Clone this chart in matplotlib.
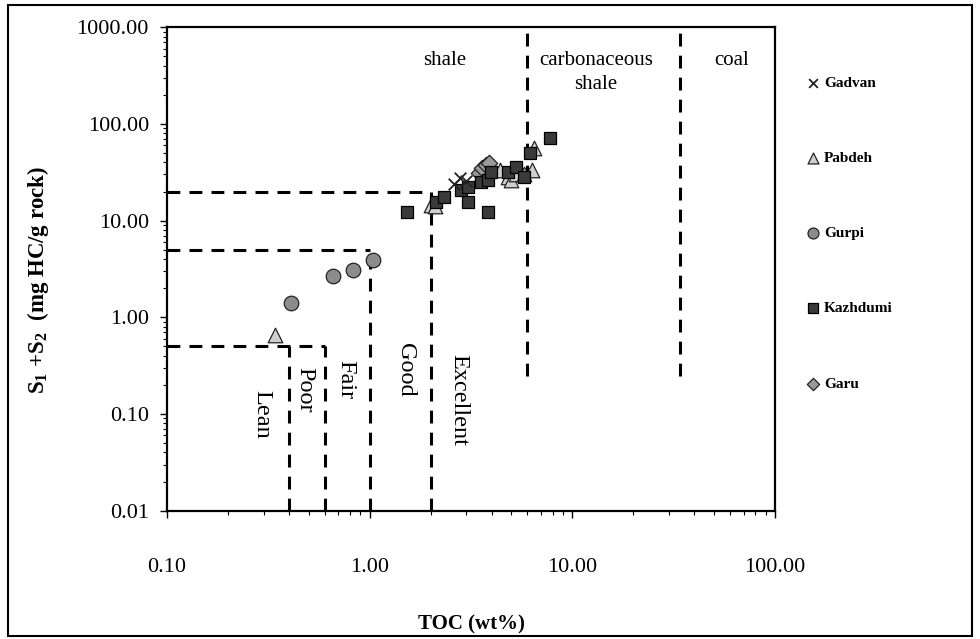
#!/usr/bin/env python
# -*- coding: utf-8 -*-
"""
TOC vs S1+S2 source rock quality plot (log-log)
"""

import matplotlib
matplotlib.use('Agg')
import matplotlib.pyplot as plt
from matplotlib.ticker import LogLocator, FormatStrFormatter, NullFormatter
from matplotlib.patches import Rectangle

plt.rcParams['font.family'] = ['Liberation Serif', 'DejaVu Serif']
plt.rcParams['mathtext.fontset'] = 'custom'
plt.rcParams['mathtext.rm'] = 'Liberation Serif'
plt.rcParams['mathtext.bf'] = 'Liberation Serif:bold'

# ---- data: TOC (wt%) and S1+S2 (mg HC/g rock) per formation ----
gadvan_toc = [2.6, 2.8, 3.0]
gadvan_s12 = [24.0, 27.5, 25.5]

pabdeh_toc = [0.34, 2.0, 2.1, 3.6, 4.4, 4.8, 5.0, 5.3, 5.8, 6.3, 6.5]
pabdeh_s12 = [0.66, 14.5, 14.0, 31.0, 33.0, 28.0, 26.0, 30.0, 30.0, 33.0, 57.0]

gurpi_toc = [0.41, 0.66, 0.83, 1.04]
gurpi_s12 = [1.42, 2.7, 3.1, 3.9]

kazhdumi_toc = [1.52, 2.12, 2.33, 2.82, 3.07, 3.07, 3.55, 3.83, 3.83, 3.97, 4.8, 5.3, 5.8, 6.15, 7.8]
kazhdumi_s12 = [12.4, 15.7, 17.7, 20.7, 22.4, 15.7, 25.0, 26.0, 12.4, 32.0, 32.0, 36.0, 28.4, 50.0, 71.0]

garu_toc = [3.48, 3.6, 3.75, 3.9]
garu_s12 = [31.0, 35.0, 37.6, 39.0]

# classification boundaries
toc_limits = [0.4, 0.6, 1.0, 2.0]          # lean / poor / fair / good / excellent
s12_limits = [0.5, 5.0, 20.0]              # paired with toc 0.6, 1.0, 2.0
lith_limits = [6.0, 34.0]                  # shale / carbonaceous shale / coal
lith_bottom = 0.25

x_ticks = [0.1, 1.0, 10.0, 100.0]
y_ticks = [0.01, 0.1, 1.0, 10.0, 100.0, 1000.0]


def main():
    fig = plt.figure(figsize=(9.8, 6.39), dpi=100)
    ax = fig.add_axes([0.1704, 0.2008, 0.6204, 0.7566])

    dash = dict(color='black', lw=2.2, linestyle=(0, (4.2, 3.0)), zorder=1)

    # 分类虚线
    ax.plot([0.1, 0.6], [s12_limits[0]] * 2, **dash)
    ax.plot([0.1, 1.0], [s12_limits[1]] * 2, **dash)
    ax.plot([0.1, 2.0], [s12_limits[2]] * 2, **dash)
    ax.plot([toc_limits[0]] * 2, [0.01, s12_limits[0]], **dash)
    ax.plot([toc_limits[1]] * 2, [0.01, s12_limits[0]], **dash)
    ax.plot([toc_limits[2]] * 2, [0.01, s12_limits[1]], **dash)
    ax.plot([toc_limits[3]] * 2, [0.01, s12_limits[2]], **dash)
    for v in lith_limits:
        ax.plot([v, v], [lith_bottom, 1000], **dash)

    # 散点
    ax.scatter(pabdeh_toc, pabdeh_s12, marker='^', s=110, facecolor='#cfcfcf',
               edgecolor='#222222', lw=0.9, label='Pabdeh', zorder=3)
    ax.scatter(gurpi_toc, gurpi_s12, marker='o', s=110, facecolor='#8c8c8c',
               edgecolor='#222222', lw=0.9, label='Gurpi', zorder=3)
    ax.scatter(garu_toc, garu_s12, marker='D', s=70, facecolor='#9a9a9a',
               edgecolor='#222222', lw=0.9, label='Garu', zorder=3)
    ax.scatter(kazhdumi_toc, kazhdumi_s12, marker='s', s=80, facecolor='#3a3a3a',
               edgecolor='black', lw=0.9, label='Kazhdumi', zorder=4)
    ax.scatter(gadvan_toc, gadvan_s12, marker='x', s=70, color='#222222',
               lw=1.3, label='Gadvan', zorder=5)

    # 坐标轴
    ax.set_xscale('log')
    ax.set_yscale('log')
    ax.set_xlim(0.1, 100)
    ax.set_ylim(0.01, 1000)
    ax.set_xticks(x_ticks)
    ax.set_yticks(y_ticks)
    ax.xaxis.set_minor_locator(LogLocator(base=10, subs=range(2, 10)))
    ax.yaxis.set_minor_locator(LogLocator(base=10, subs=range(2, 10)))
    ax.xaxis.set_major_formatter(FormatStrFormatter('%.2f'))
    ax.yaxis.set_major_formatter(FormatStrFormatter('%.2f'))
    ax.xaxis.set_minor_formatter(NullFormatter())
    ax.yaxis.set_minor_formatter(NullFormatter())
    ax.tick_params(axis='x', which='major', labelsize=16, length=5, width=1, pad=29)
    ax.tick_params(axis='y', which='major', labelsize=16, length=5, width=1, pad=8)
    ax.tick_params(which='minor', length=3, width=0.8)
    for sp in ax.spines.values():
        sp.set_linewidth(1.6)

    ax.set_xlabel('TOC (wt%)', fontsize=15, fontweight='bold', labelpad=27)
    ax.set_ylabel(r'S$_\mathbf{1}$ +S$_\mathbf{2}$  (mg HC/g rock)', fontsize=16.5,
                  fontweight='bold')
    ax.yaxis.set_label_coords(-0.19, 0.477)

    # 区域文字
    ax.text(2.35, 458, 'shale', fontsize=15, ha='center', va='center')
    ax.text(13.1, 340, 'carbonaceous\nshale', fontsize=15, ha='center', va='center',
            linespacing=1.3)
    ax.text(61, 458, 'coal', fontsize=15, ha='center', va='center')
    vt = dict(fontsize=17.5, rotation=-90, ha='center', va='center')
    ax.text(0.295, 0.098, 'Lean', **vt)
    ax.text(0.48, 0.177, 'Poor', **vt)
    ax.text(0.76, 0.225, 'Fair', **vt)
    ax.text(1.51, 0.285, 'Good', **vt)
    ax.text(2.76, 0.14, 'Excellent', **vt)

    # 图例
    handles, labels = ax.get_legend_handles_labels()
    order = ['Gadvan', 'Pabdeh', 'Gurpi', 'Kazhdumi', 'Garu']
    hmap = dict(zip(labels, handles))
    fig.legend([hmap[k] for k in order], order, loc='upper left',
               bbox_to_anchor=(0.808, 0.902), frameon=False,
               prop={'weight': 'bold', 'size': 11}, labelspacing=4.02,
               handletextpad=0.2, handlelength=1.0, markerscale=0.75)

    # 外框
    fig.patches.append(Rectangle((0.008, 0.004), 0.984, 0.988, transform=fig.transFigure,
                                 fill=False, lw=1.5, edgecolor='black'))

    fig.savefig('out.png', dpi=100)
    plt.close(fig)


if __name__ == '__main__':
    main()
